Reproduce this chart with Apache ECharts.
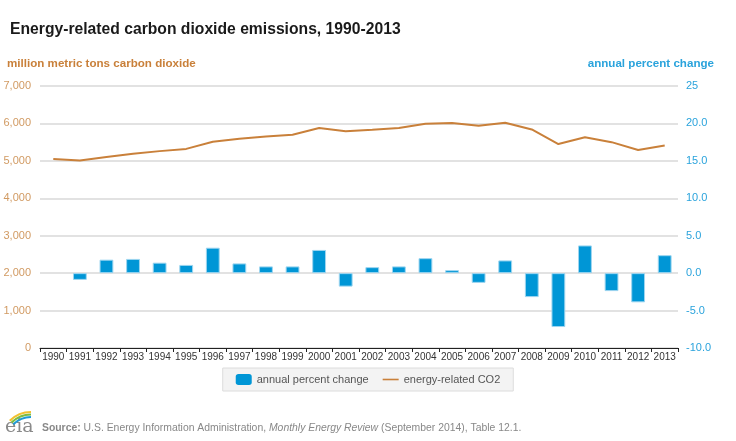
<!DOCTYPE html>
<html>
<head>
<meta charset="utf-8">
<script src="https://cdn.jsdelivr.net/npm/echarts@6/dist/echarts.min.js"></script>
<style>
html,body{margin:0;padding:0;background:#fff;}
#chart{width:736px;height:441px;}
</style>
</head>
<body>
<div id="chart"></div>
<script>
const years = ['1990','1991','1992','1993','1994','1995','1996','1997','1998','1999','2000','2001','2002','2003','2004','2005','2006','2007','2008','2009','2010','2011','2012','2013'];
const co2 = [5050, 5010, 5100, 5190, 5260, 5320, 5510, 5590, 5650, 5700, 5880, 5790, 5830, 5880, 5990, 6010, 5940, 6020, 5840, 5450, 5630, 5500, 5290, 5410];
const pctChange = [null, -0.9, 1.8, 1.9, 1.4, 1.1, 3.4, 1.3, 0.9, 0.9, 3.1, -1.8, 0.8, 0.9, 2.0, 0.4, -1.3, 1.7, -3.2, -7.2, 3.7, -2.4, -3.9, 2.4];
const leftTicks = {min: 0, max: 7000, interval: 1000};
const rightTicks = {min: -10, max: 25, interval: 5};

const chart = echarts.init(document.getElementById('chart'), null, {renderer: 'canvas'});
const font = 'Liberation Sans, Arial, Helvetica, sans-serif';
const orange = '#c9803a';
const blue = '#0096d6';

chart.setOption({
  animation: false,
  textStyle: {fontFamily: font},
  title: [{
    text: 'Energy-related carbon dioxide emissions, 1990-2013',
    left: 5, top: 17,
    textStyle: {fontSize: 15.7, fontWeight: 'bold', color: '#1a1a1a', fontFamily: font}
  }],
  legend: {
    bottom: 50, left: 'center',
    backgroundColor: '#f3f3f3', borderColor: '#dcdcdc', borderWidth: 1,
    padding: [6, 13, 6, 13], itemGap: 14,
    itemWidth: 16, itemHeight: 11,
    textStyle: {fontSize: 11, color: '#555', fontFamily: font},
    data: [
      {name: 'annual percent change', icon: 'roundRect', itemStyle: {borderWidth: 0}},
      {name: 'energy-related CO2', icon: 'path://M0,0 L20,0 L20,2 L0,2 Z', itemStyle: {color: orange}}
    ]
  },
  grid: {left: 40, right: 58, top: 86, bottom: 93, containLabel: false},
  xAxis: {
    type: 'category', data: years, boundaryGap: true,
    axisLine: {onZero: false, lineStyle: {color: '#222', width: 1}},
    axisTick: {show: true, length: 4, lineStyle: {color: '#222'}},
    axisLabel: {fontSize: 10, color: '#333', margin: 4, interval: 0, fontFamily: font}
  },
  yAxis: [{
    type: 'value', min: leftTicks.min, max: leftTicks.max, interval: leftTicks.interval,
    position: 'left',
    axisLine: {show: false}, axisTick: {show: false},
    splitLine: {lineStyle: {color: '#d9d9d9', width: 1.5}},
    axisLabel: {fontSize: 11, color: '#d19a62', margin: 9, fontFamily: font,
      formatter: v => v.toLocaleString('en-US')}
  }, {
    type: 'value', min: rightTicks.min, max: rightTicks.max, interval: rightTicks.interval,
    position: 'right',
    axisLine: {show: false}, axisTick: {show: false},
    splitLine: {show: false},
    axisLabel: {fontSize: 11, color: '#2aa3dc', margin: 8, fontFamily: font,
      formatter: v => v === 25 ? '25' : v.toFixed(1)}
  }],
  series: [{
    name: 'annual percent change', type: 'bar', yAxisIndex: 1,
    data: pctChange, barWidth: '52%',
    itemStyle: {color: blue, borderColor: '#9ed6f0', borderWidth: 1}
  }, {
    name: 'energy-related CO2', type: 'line', yAxisIndex: 0,
    data: co2, symbol: 'none',
    lineStyle: {color: orange, width: 2}, itemStyle: {color: orange}, z: 3
  }],
  graphic: [
    {type: 'text', left: 7, top: 58,
      style: {text: 'million metric tons carbon dioxide', fill: orange, font: 'bold 11.6px ' + font}},
    {type: 'text', right: 22, top: 58,
      style: {text: 'annual percent change', fill: '#2aa3dc', font: 'bold 11.6px ' + font}},
    {type: 'text', left: 42, top: 423,
      style: {
        text: '{b|Source:} U.S. Energy Information Administration, {i|Monthly Energy Review} (September 2014), Table 12.1.',
        font: '10.4px ' + font, fill: '#888',
        rich: {
          b: {fontWeight: 'bold', fontSize: 10.4, fill: '#888', fontFamily: font},
          i: {fontStyle: 'italic', fontSize: 10.4, fill: '#888', fontFamily: font}
        }
      }},
    {type: 'text', left: 5, top: 418,
      style: {text: 'eia', fill: '#8a8a8a', font: '19px DejaVu Serif, serif'}},
    {type: 'arc', shape: {cx: 31, cy: 442, r: 30, startAngle: Math.PI * 1.25, endAngle: Math.PI * 1.5},
      style: {stroke: '#f2c12e', lineWidth: 2.2, fill: null}},
    {type: 'arc', shape: {cx: 31, cy: 442, r: 27.5, startAngle: Math.PI * 1.25, endAngle: Math.PI * 1.5},
      style: {stroke: '#7dbb42', lineWidth: 2.2, fill: null}},
    {type: 'arc', shape: {cx: 31, cy: 442, r: 25, startAngle: Math.PI * 1.25, endAngle: Math.PI * 1.5},
      style: {stroke: '#1e9ad6', lineWidth: 2.2, fill: null}}
  ]
});
</script>
</body>
</html>
